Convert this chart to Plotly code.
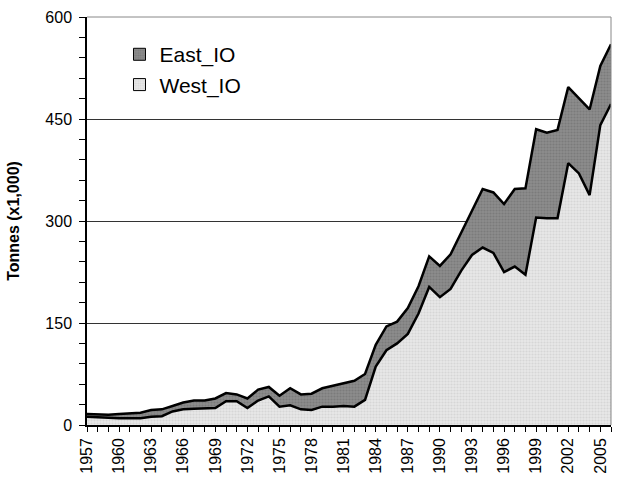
import plotly.graph_objects as go

years = list(range(1957, 2007))

west_io = [12, 11, 11, 10, 10, 10, 12, 13, 20, 23, 24, 24, 25, 35, 35, 25,
           36, 42, 27, 29, 23, 22, 27, 27, 28, 27, 37, 86, 110, 120, 134, 164,
           203, 188, 200, 227, 250, 261, 253, 225, 233, 221, 305, 304, 304, 385,
           370, 338, 441, 472]

total = [16, 15, 15, 16, 17, 18, 22, 23, 28, 33, 36, 36, 39, 47, 45, 39,
         52, 56, 43, 54, 45, 46, 54, 58, 61, 65, 75, 118, 145, 152, 172, 204,
         248, 234, 251, 284, 315, 347, 342, 325, 347, 348, 435, 430, 434, 497,
         480, 464, 528, 560]

east_io = [t - w for t, w in zip(total, west_io)]

tick_years = list(range(1957, 2007, 3))

font = "Liberation Sans, Arial, sans-serif"

east_pat = dict(shape=".", bgcolor="#8c8c8c", fgcolor="#6a6a6a", size=3, solidity=0.4)
west_pat = dict(shape=".", bgcolor="#e8e8e8", fgcolor="#c4c4c4", size=3, solidity=0.4)

fig = go.Figure()

fig.add_trace(go.Scatter(
    x=years, y=west_io, name="West_IO", stackgroup="one", showlegend=False,
    mode="lines", line=dict(color="black", width=2.5),
    fillcolor="#e2e2e2", fillpattern=west_pat,
))
fig.add_trace(go.Scatter(
    x=years, y=east_io, name="East_IO", stackgroup="one", showlegend=False,
    mode="lines", line=dict(color="black", width=2.5),
    fillcolor="#828282", fillpattern=east_pat,
))

# legend entries (square swatches like the original)
fig.add_trace(go.Bar(x=[None], y=[None], name="West_IO",
                     marker=dict(color="#e2e2e2", line=dict(color="black", width=1),
                                 pattern=west_pat)))
fig.add_trace(go.Bar(x=[None], y=[None], name="East_IO",
                     marker=dict(color="#828282", line=dict(color="black", width=1),
                                 pattern=east_pat)))

fig.update_layout(
    width=619, height=482,
    margin=dict(l=87, r=8, t=17, b=57, autoexpand=False),
    paper_bgcolor="white", plot_bgcolor="white",
    font=dict(family=font, size=16, color="black"),
    showlegend=True,
    legend=dict(x=0.062, y=0.958, xanchor="left", yanchor="top",
                traceorder="reversed", font=dict(size=21),
                bgcolor="rgba(0,0,0,0)", itemwidth=30, tracegroupgap=0),
    shapes=[dict(type="path", xref="paper", yref="paper",
                 path="M 0,1 L 1,1 L 1,0", line=dict(color="#888", width=1),
                 layer="above")],
)

fig.update_xaxes(
    range=[1957, 2006], tickvals=tick_years, ticktext=[str(y) for y in tick_years],
    tickangle=-90, ticks="outside", ticklen=5, tickcolor="black",
    tickfont=dict(size=16),
    showline=True, linecolor="black", linewidth=1.5, showgrid=False,
    zeroline=False, automargin=False,
    minor=dict(dtick=1, tick0=1957, ticks="outside", ticklen=5, tickcolor="black"),
)
fig.update_yaxes(
    range=[0, 600], tickvals=[0, 150, 300, 450, 600],
    ticks="outside", ticklen=6, tickcolor="black", tickfont=dict(size=16),
    ticklabelstandoff=4,
    showline=True, linecolor="black", linewidth=1.5,
    showgrid=True, gridcolor="#333", gridwidth=1, zeroline=False,
    automargin=False,
    minor=dict(dtick=30, tick0=0, ticks="outside", ticklen=6, tickcolor="black",
               showgrid=False),
    title=dict(text="<b>Tonnes (x1,000)</b>", font=dict(size=16), standoff=22),
)

fig.write_html("out.html", config={"displayModeBar": False},
               post_script="document.body.style.margin='0';")
